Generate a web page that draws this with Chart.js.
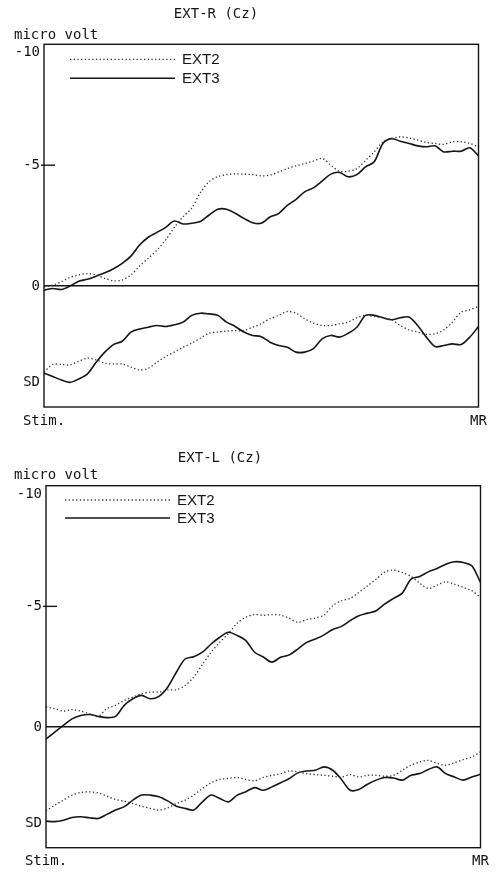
<!DOCTYPE html>
<html>
<head>
<meta charset="utf-8">
<script src="https://cdn.jsdelivr.net/npm/chart.js@4"></script>
<style>
  body { margin: 0; background: #fff; }
  canvas { position: absolute; left: 0; }
  #chartR { top: 0; }
  #chartL { top: 436px; }
</style>
</head>
<body>
<canvas id="chartR" width="497" height="436"></canvas>
<canvas id="chartL" width="497" height="436"></canvas>
<script>
// time from stimulus (0) to movement (100), in percent
const timePct = [0, 2, 4, 6, 8, 10, 12, 14, 16, 18, 20, 22, 24, 26, 28, 30, 32, 34, 36, 38, 40,
  42, 44, 46, 48, 50, 52, 54, 56, 58, 60, 62, 64, 66, 68, 70, 72, 74, 76, 78, 80,
  82, 84, 86, 88, 90, 92, 94, 96, 98, 100];
const xTickValues = [0, 100];
const xTickLabels = ['Stim.', 'MR'];
const yTickValues = [-10, -5, 0, 4];
const yTickLabels = ['-10', '-5', '0', 'SD'];

// EXT-R (Cz)
const extR2 = [0.03, -0.04, -0.18, -0.36, -0.46, -0.52, -0.46, -0.32, -0.22, -0.25, -0.46, -0.83, -1.15, -1.49, -1.91,
  -2.43, -2.87, -3.22, -3.87, -4.32, -4.53, -4.61, -4.64, -4.63, -4.61, -4.56, -4.59, -4.72, -4.86, -4.97,
  -5.07, -5.17, -5.28, -5.0, -4.75, -4.75, -4.86, -5.2, -5.55, -5.97, -6.1, -6.17, -6.13, -6.04, -5.94,
  -5.9, -5.86, -5.97, -5.97, -5.9, -5.76];
const extR3 = [0.17, 0.1, 0.14, 0, -0.2, -0.28, -0.41, -0.55, -0.72, -0.94, -1.24, -1.7, -2.02, -2.22, -2.43,
  -2.69, -2.57, -2.6, -2.67, -2.94, -3.18, -3.18, -3.01, -2.8, -2.62, -2.6, -2.86, -3.0, -3.34, -3.59,
  -3.9, -4.06, -4.34, -4.63, -4.7, -4.52, -4.61, -4.93, -5.14, -5.9, -6.1, -5.99, -5.9, -5.8, -5.76,
  -5.8, -5.55, -5.58, -5.58, -5.72, -5.39];
const extRsd2 = [3.56, 3.24, 3.24, 3.26, 3.11, 2.98, 3.05, 3.19, 3.22, 3.22, 3.35, 3.47, 3.4, 3.15, 2.91,
  2.73, 2.53, 2.36, 2.15, 1.95, 1.9, 1.86, 1.84, 1.84, 1.7, 1.56, 1.35, 1.21, 1.05, 1.12,
  1.35, 1.53, 1.63, 1.63, 1.56, 1.49, 1.31, 1.21, 1.26, 1.31, 1.39, 1.63, 1.81, 1.9, 2.0,
  1.97, 1.81, 1.49, 1.08, 0.98, 0.84];
const extRsd3 = [3.6, 3.74, 3.88, 3.98, 3.84, 3.63, 3.15, 2.73, 2.42, 2.28, 1.9, 1.77, 1.7, 1.63, 1.67,
  1.6, 1.49, 1.21, 1.12, 1.15, 1.21, 1.49, 1.67, 1.9, 2.04, 2.09, 2.32, 2.46, 2.53, 2.73,
  2.73, 2.59, 2.18, 2.04, 2.11, 1.95, 1.7, 1.21, 1.21, 1.31, 1.39, 1.31, 1.28, 1.63, 2.11,
  2.5, 2.46, 2.39, 2.42, 2.11, 1.67];

// EXT-L (Cz)
const extL2 = [-0.83, -0.76, -0.66, -0.72, -0.66, -0.55, -0.44, -0.76, -0.9, -1.1, -1.24, -1.38, -1.45, -1.45, -1.54,
  -1.54, -1.72, -2.07, -2.59, -3.1, -3.51, -3.88, -4.3, -4.55, -4.66, -4.63, -4.66, -4.64, -4.5, -4.34,
  -4.45, -4.52, -4.64, -5.03, -5.23, -5.33, -5.58, -5.85, -6.13, -6.43, -6.5, -6.4, -6.24, -5.96, -5.74,
  -5.88, -6.02, -5.92, -5.79, -5.65, -5.37];
const extL3 = [0.5, 0.21, -0.07, -0.34, -0.48, -0.52, -0.44, -0.39, -0.44, -0.9, -1.17, -1.31, -1.17, -1.27, -1.65,
  -2.27, -2.82, -2.91, -3.1, -3.44, -3.72, -3.93, -3.79, -3.58, -3.1, -2.9, -2.69, -2.89, -2.99, -3.24,
  -3.51, -3.65, -3.82, -4.04, -4.17, -4.41, -4.61, -4.72, -4.82, -5.1, -5.33, -5.55, -6.13, -6.24, -6.43,
  -6.57, -6.75, -6.85, -6.82, -6.68, -5.99];
const extLsd2 = [3.48, 3.24, 3.03, 2.82, 2.71, 2.69, 2.73, 2.86, 3.0, 3.07, 3.17, 3.28, 3.37, 3.44, 3.35,
  3.17, 3.03, 2.82, 2.55, 2.31, 2.17, 2.13, 2.09, 2.17, 2.23, 2.09, 2.0, 1.93, 1.82, 1.86,
  1.93, 1.97, 2.0, 2.04, 2.07, 1.97, 2.07, 2.0, 2.0, 2.04, 2.0, 1.79, 1.58, 1.45, 1.38,
  1.51, 1.58, 1.48, 1.35, 1.24, 1.03];
const extLsd3 = [3.9, 3.92, 3.86, 3.75, 3.72, 3.76, 3.79, 3.62, 3.44, 3.3, 3.03, 2.82, 2.82, 2.89, 3.06,
  3.28, 3.37, 3.44, 3.1, 2.82, 2.96, 3.1, 2.82, 2.68, 2.51, 2.62, 2.48, 2.31, 2.13, 1.9,
  1.82, 1.79, 1.65, 1.79, 2.17, 2.62, 2.59, 2.37, 2.2, 2.09, 2.11, 2.2, 2.0, 1.93, 1.76,
  1.65, 1.93, 2.07, 2.2, 2.07, 1.96];

Chart.defaults.font.family = 'DejaVu Sans Mono';
Chart.defaults.font.size = 14;
Chart.defaults.color = '#111';

const ink = '#151515';

function pts(values) {
  return values.map((v, i) => ({ x: timePct[i], y: v }));
}

function dotted(label, values) {
  return { label, data: pts(values), borderColor: '#333', borderWidth: 1.3, borderDash: [1.3, 2.4],
    pointRadius: 0, tension: 0.3, fill: false };
}
function solid(label, values) {
  return { label, data: pts(values), borderColor: ink, borderWidth: 1.6,
    pointRadius: 0, tension: 0.3, fill: false };
}

// frame, -5 tick, header texts and the in-plot legend
const decorations = {
  id: 'decorations',
  afterDatasetsDraw(chart, args, o) {
    const { ctx, chartArea: a } = chart;
    const y = chart.scales.y;
    ctx.save();
    ctx.strokeStyle = ink;
    ctx.lineWidth = 1.4;
    ctx.strokeRect(a.left, a.top, a.right - a.left, a.bottom - a.top);
    const y5 = y.getPixelForValue(-5);
    ctx.beginPath();
    ctx.moveTo(a.left - 3, y5);
    ctx.lineTo(a.left + 11, y5);
    ctx.stroke();

    ctx.fillStyle = ink;
    ctx.textBaseline = 'middle';
    ctx.font = '14px "DejaVu Sans Mono"';
    ctx.textAlign = 'center';
    ctx.fillText(o.title, o.titleX, o.titleY);
    ctx.textAlign = 'left';
    ctx.fillText('micro volt', 14, o.unitY);

    // legend: one row per distinct label
    ctx.font = '15px "Liberation Sans"';
    const seen = new Set();
    let row = 0;
    chart.data.datasets.forEach(ds => {
      if (seen.has(ds.label)) return;
      seen.add(ds.label);
      const ly = a.top + o.legTop + row * o.legGap;
      ctx.strokeStyle = ds.borderColor;
      ctx.lineWidth = ds.borderWidth;
      ctx.setLineDash(ds.borderDash || []);
      ctx.beginPath();
      ctx.moveTo(a.left + o.legX0, ly);
      ctx.lineTo(a.left + o.legX1, ly);
      ctx.stroke();
      ctx.setLineDash([]);
      ctx.fillText(ds.label, a.left + o.legX1 + 7, ly + 1);
      row++;
    });
    ctx.restore();
  }
};

function makeChart(el, title, s2, s3, sd2, sd3, box) {
  return new Chart(document.getElementById(el), {
    type: 'line',
    data: {
      datasets: [dotted('EXT2', s2), solid('EXT3', s3), dotted('EXT2', sd2), solid('EXT3', sd3)]
    },
    options: {
      responsive: false,
      animation: false,
      layout: { padding: { top: box.top, right: box.right, left: 0, bottom: 0 } },
      plugins: {
        legend: { display: false },
        tooltip: { enabled: false },
        decorations: { title, titleX: box.titleX, titleY: box.titleY, unitY: box.unitY,
          legTop: box.legTop, legGap: box.legGap, legX0: box.legX0, legX1: box.legX1 }
      },
      scales: {
        x: {
          type: 'linear', min: 0, max: 100,
          afterBuildTicks: s => { s.ticks = xTickValues.map(v => ({ value: v })); },
          afterFit: s => { s.height = box.xHeight; },
          ticks: { maxRotation: 0, padding: box.xPad,
            callback: v => xTickLabels[xTickValues.indexOf(v)] },
          grid: { display: false, drawTicks: false },
          border: { display: false }
        },
        y: {
          reverse: true, min: -10, max: 5,
          afterBuildTicks: s => { s.ticks = yTickValues.map(v => ({ value: v })); },
          afterFit: s => { s.width = box.left; },
          ticks: { padding: 4,
            callback: v => v === -10 ? ['', yTickLabels[0]] : yTickLabels[yTickValues.indexOf(v)] },
          grid: { drawTicks: false, lineWidth: 1.5,
            color: c => (c.tick && c.tick.value === 0) ? ink : 'rgba(0,0,0,0)' },
          border: { display: false }
        }
      }
    },
    plugins: [decorations]
  });
}

makeChart('chartR', 'EXT-R (Cz)', extR2, extR3, extRsd2, extRsd3,
  { top: 44.3, right: 18.5, left: 44, xHeight: 29, xPad: 6,
    titleX: 216, titleY: 14, unitY: 35, legTop: 15, legGap: 19, legX0: 26, legX1: 131 });
makeChart('chartL', 'EXT-L (Cz)', extL2, extL3, extLsd2, extLsd3,
  { top: 49.7, right: 16.5, left: 46, xHeight: 24.3, xPad: 5,
    titleX: 220, titleY: 22, unitY: 39, legTop: 14.3, legGap: 18, legX0: 19, legX1: 124 });
</script>
</body>
</html>
